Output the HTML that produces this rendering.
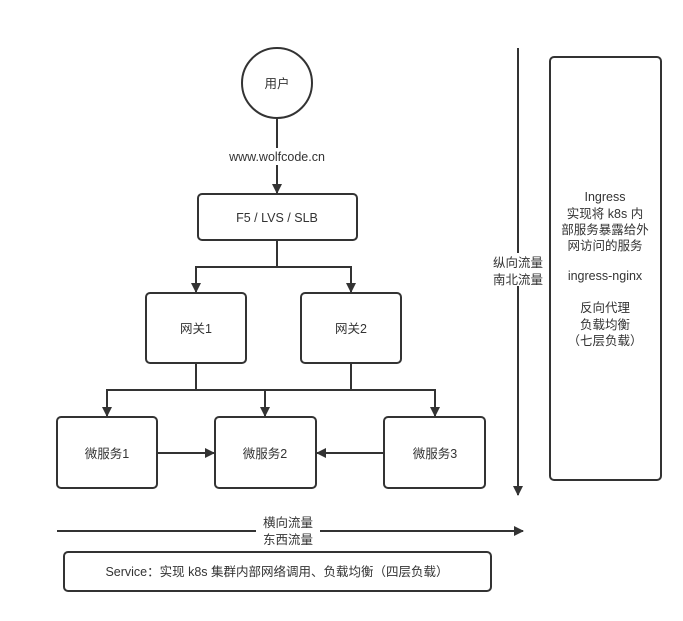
<!DOCTYPE html>
<html><head><meta charset="utf-8"><style>
body{margin:0;background:#fff}
svg text{font-family:"Liberation Sans","Noto Sans CJK SC",sans-serif;font-size:12.5px;fill:#333;text-anchor:middle}
</style></head><body>
<svg width="683" height="616" viewBox="0 0 683 616" xmlns="http://www.w3.org/2000/svg">
<defs><marker id="a" markerWidth="10" markerHeight="10" refX="9" refY="5" orient="auto" markerUnits="userSpaceOnUse"><path d="M0,0 L10,5 L0,10 Z" fill="#333"/></marker></defs>
<g stroke="#333" stroke-width="2" fill="none">
<circle cx="277" cy="83" r="35" fill="#fff"/>
<line x1="277" y1="118" x2="277" y2="193" marker-end="url(#a)"/>
<rect x="198" y="194" width="159" height="46" rx="4" fill="#fff"/>
<path d="M277 240 V267 M196 267 H351"/>
<line x1="196" y1="266" x2="196" y2="292" marker-end="url(#a)"/>
<line x1="351" y1="266" x2="351" y2="292" marker-end="url(#a)"/>
<rect x="146" y="293" width="100" height="70" rx="4" fill="#fff"/>
<rect x="301" y="293" width="100" height="70" rx="4" fill="#fff"/>
<path d="M196 363 V390 M351 363 V390 M107 390 H435"/>
<line x1="107" y1="389" x2="107" y2="416" marker-end="url(#a)"/>
<line x1="265" y1="389" x2="265" y2="416" marker-end="url(#a)"/>
<line x1="435" y1="389" x2="435" y2="416" marker-end="url(#a)"/>
<rect x="57" y="417" width="100" height="71" rx="4" fill="#fff"/>
<rect x="215" y="417" width="101" height="71" rx="4" fill="#fff"/>
<rect x="384" y="417" width="101" height="71" rx="4" fill="#fff"/>
<line x1="157" y1="453" x2="214" y2="453" marker-end="url(#a)"/>
<line x1="384" y1="453" x2="317" y2="453" marker-end="url(#a)"/>
<line x1="57" y1="531" x2="523" y2="531" marker-end="url(#a)"/>
<rect x="64" y="552" width="427" height="39" rx="4" fill="#fff"/>
<line x1="518" y1="48" x2="518" y2="495" marker-end="url(#a)"/>
<rect x="550" y="57" width="111" height="423" rx="4" fill="#fff"/>
</g>
<rect x="220" y="148" width="115" height="17" fill="#fff"/>
<rect x="488" y="253" width="60" height="33" fill="#fff"/>
<rect x="256" y="514" width="64" height="32" fill="#fff"/>
<text x="277" y="88">用户</text>
<text x="277" y="161">www.wolfcode.cn</text>
<text x="277" y="222">F5 / LVS / SLB</text>
<text x="196" y="333">网关1</text>
<text x="351" y="333">网关2</text>
<text x="107" y="458">微服务1</text>
<text x="265" y="458">微服务2</text>
<text x="435" y="458">微服务3</text>
<text x="288" y="527">横向流量</text>
<text x="288" y="544">东西流量</text>
<text x="277" y="576">Service：实现 k8s 集群内部网络调用、负载均衡（四层负载）</text>
<text x="518" y="267">纵向流量</text>
<text x="518" y="284">南北流量</text>
<text x="605" y="201">Ingress</text>
<text x="605" y="218">实现将 k8s 内</text>
<text x="605" y="234">部服务暴露给外</text>
<text x="605" y="250">网访问的服务</text>
<text x="605" y="280">ingress-nginx</text>
<text x="605" y="312">反向代理</text>
<text x="605" y="329">负载均衡</text>
<text x="605" y="345">（七层负载）</text>
</svg>
</body></html>
